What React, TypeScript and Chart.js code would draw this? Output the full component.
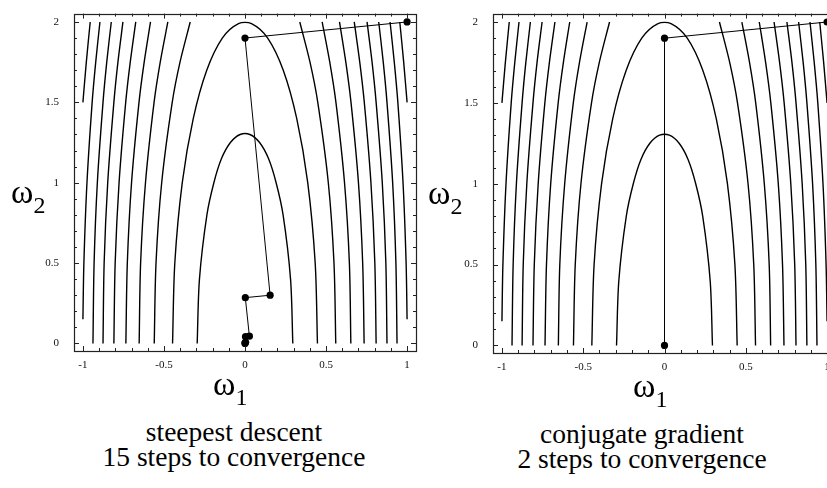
import React, { useEffect, useRef } from "react";
import { Chart, registerables } from "chart.js";

Chart.register(...registerables);

// ---- axis ticks ----
const xTickValues = [-1, -0.5, 0, 0.5, 1];
const xTickLabels = ["-1", "-0.5", "0", "0.5", "1"];
const yTickValues = [0, 0.5, 1, 1.5, 2];
const yTickLabels = ["0", "0.5", "1", "1.5", "2"];

// ---- contour lines (right half; the plot is mirror-symmetric) ----
// open contours: x read at these heights
const openContourY = [0, 0.5, 1, 1.5, 1.75, 2];
const open1X = [0.56, 0.549, 0.514, 0.449, 0.401, 0.338];
const open2X = [0.653, 0.644, 0.614, 0.561, 0.523, 0.476];
const open3X = [0.735, 0.726, 0.7, 0.654, 0.622, 0.583];
const open4X = [0.809, 0.801, 0.777, 0.736, 0.708, 0.674];
const open5X = [0.876, 0.869, 0.847, 0.809, 0.784, 0.753];
const open6X = [0.938, 0.931, 0.911, 0.876, 0.853, 0.825];
// contours cut by the plot edge x = ±1
const edge1X = [1, 0.994, 0.975, 0.943, 0.921, 0.895];
const edge1Y = [0.15, 0.5, 1, 1.5, 1.75, 2];
const edge2X = [1, 0.979, 0.955];
const edge2Y = [1.5, 1.75, 2];
// closed contours (bottom to cap)
const innerX = [0.295, 0.281, 0.235, 0.192, 0.145, 0.09, 0.03];
const innerY = [0, 0.4, 0.8, 1.0, 1.15, 1.25, 1.3];
const outerX = [0.447, 0.433, 0.387, 0.319, 0.236, 0.14, 0.04];
const outerY = [0, 0.5, 1.0, 1.4, 1.7, 1.9, 1.99];

// ---- optimisation paths ----
const steepestX = [1, 0, 0.155, 0.002, 0.027, 0.003, 0.004, 0, 0];
const steepestY = [2, 1.9, 0.3, 0.285, 0.045, 0.042, 0.007, 0.004, 0];
const conjugateX = [1, 0, 0];
const conjugateY = [2, 1.9, 0];

const xMin = -1.055;
const xMax = 1.055;
const yMin = -0.047;
const yMax = 2.052;

const serif = '"Liberation Serif", "Times New Roman", Times, Tinos, "DejaVu Serif", serif';

type Pt = { x: number; y: number };

function zip(xs: number[], ys: number[]): Pt[] {
  return xs.map((x, i) => ({ x, y: ys[i] }));
}
function mirror(pts: Pt[]): Pt[] {
  return pts.map((p) => ({ x: -p.x, y: p.y }));
}
function closed(xs: number[], ys: number[]): Pt[] {
  const right = zip(xs, ys);
  const left = mirror(right);
  return [...left, ...right.slice().reverse()];
}

function contourDatasets() {
  const lines: Pt[][] = [];
  lines.push(closed(innerX, innerY));
  lines.push(closed(outerX, outerY));
  [open1X, open2X, open3X, open4X, open5X, open6X].forEach((xs) => {
    const r = zip(xs, openContourY);
    lines.push(r, mirror(r));
  });
  const e1 = zip(edge1X, edge1Y);
  const e2 = zip(edge2X, edge2Y);
  lines.push(e1, mirror(e1), e2, mirror(e2));
  return lines.map((data) => ({
    type: "scatter" as const,
    data,
    showLine: true,
    borderColor: "#000",
    borderWidth: 1.4,
    pointRadius: 0,
    tension: 0.3,
    order: 1,
    clip: 2,
  }));
}

const frameTicks = {
  id: "frameTicks",
  afterDatasetsDraw(chart: any) {
    const { ctx, chartArea } = chart;
    const xs = chart.scales.x;
    const ys = chart.scales.y;
    const { left, right, top, bottom } = chartArea;
    ctx.save();
    ctx.strokeStyle = "#222";
    ctx.lineWidth = 1;
    ctx.beginPath();
    for (let i = -10; i <= 10; i++) {
      const px = Math.round(xs.getPixelForValue(i / 10)) + 0.5;
      const len = i % 5 === 0 ? 5 : 3;
      ctx.moveTo(px, bottom);
      ctx.lineTo(px, bottom - len);
      ctx.moveTo(px, top);
      ctx.lineTo(px, top + len);
    }
    for (let i = 0; i <= 20; i++) {
      const py = Math.round(ys.getPixelForValue(i / 10)) + 0.5;
      const len = i % 5 === 0 ? 5 : 3;
      ctx.moveTo(left, py);
      ctx.lineTo(left + len, py);
      ctx.moveTo(right, py);
      ctx.lineTo(right - len, py);
    }
    ctx.stroke();
    ctx.lineWidth = 1.2;
    ctx.strokeRect(Math.round(left) + 0.5, Math.round(top) + 0.5, Math.round(right - left), Math.round(bottom - top));
    ctx.restore();
  },
};

type PanelProps = {
  left: number;
  top: number;
  width: number;
  height: number;
  padTop: number;
  padRight: number;
  yAxisW: number;
  xAxisH: number;
  pathX: number[];
  pathY: number[];
};

function Panel(p: PanelProps) {
  const ref = useRef<HTMLCanvasElement>(null);
  useEffect(() => {
    const tickFont = { family: serif, size: 11 };
    const chart = new Chart(ref.current as HTMLCanvasElement, {
      type: "scatter",
      data: {
        datasets: [
          {
            type: "scatter",
            data: zip(p.pathX, p.pathY),
            showLine: true,
            borderColor: "#000",
            borderWidth: 1,
            pointRadius: 3.6,
            pointBackgroundColor: "#000",
            pointBorderWidth: 0,
            tension: 0,
            order: 0,
            clip: 6,
          },
          ...contourDatasets(),
        ] as any,
      },
      options: {
        responsive: false,
        animation: false,
        devicePixelRatio: 1,
        events: [],
        layout: { padding: { top: p.padTop, right: p.padRight, left: 0, bottom: 0 } },
        plugins: { legend: { display: false }, tooltip: { enabled: false } },
        scales: {
          x: {
            type: "linear",
            min: xMin,
            max: xMax,
            grid: { display: false },
            border: { display: false },
            ticks: {
              font: tickFont,
              color: "#111",
              padding: 0,
              autoSkip: false,
              maxRotation: 0,
              callback: (_v: any, i: number) => xTickLabels[i],
            },
            afterBuildTicks: (s: any) => {
              s.ticks = xTickValues.map((v) => ({ value: v }));
            },
            afterFit: (s: any) => {
              s.height = p.xAxisH;
            },
          },
          y: {
            type: "linear",
            min: yMin,
            max: yMax,
            grid: { display: false },
            border: { display: false },
            ticks: {
              font: tickFont,
              color: "#111",
              padding: 7,
              autoSkip: false,
              callback: (_v: any, i: number) => yTickLabels[i],
            },
            afterBuildTicks: (s: any) => {
              s.ticks = yTickValues.map((v) => ({ value: v }));
            },
            afterFit: (s: any) => {
              s.width = p.yAxisW;
            },
          },
        },
      } as any,
      plugins: [frameTicks],
    });
    return () => chart.destroy();
  }, []);
  return (
    <canvas
      ref={ref}
      width={p.width}
      height={p.height}
      style={{ position: "absolute", left: p.left, top: p.top, width: p.width, height: p.height }}
    />
  );
}

function AxisLabel({ left, baseline, sub }: { left: number; baseline: number; sub: string }) {
  const F = 34;
  return (
    <div
      style={{
        position: "absolute",
        left,
        top: baseline - 0.8375 * F,
        fontSize: F,
        lineHeight: 1,
        fontFamily: serif,
        whiteSpace: "nowrap",
      }}
    >
      ω<span style={{ fontSize: 24, position: "relative", top: 10 }}>{sub}</span>
    </div>
  );
}

function Caption({ center, baseline, lines }: { center: number; baseline: number; lines: string[] }) {
  const F = 27.5;
  const LH = 25;
  return (
    <div
      style={{
        position: "absolute",
        left: center - 200,
        width: 400,
        top: baseline - (LH - 1.107 * F) / 2 - 0.891 * F,
        fontSize: F,
        lineHeight: LH + "px",
        fontFamily: serif,
        textAlign: "center",
        whiteSpace: "nowrap",
      }}
    >
      {lines.map((l, i) => (
        <div key={i}>{l}</div>
      ))}
    </div>
  );
}

export default function App() {
  return (
    <div
      style={{
        position: "fixed",
        left: 0,
        top: 0,
        width: 827,
        height: 488,
        overflow: "hidden",
        background: "#fff",
        color: "#000",
        fontFamily: serif,
      }}
    >
      <Panel left={0} top={0} width={420} height={372} padTop={10} padRight={3} yAxisW={74} xAxisH={21} pathX={steepestX} pathY={steepestY} />
      <Panel left={420} top={0} width={420} height={374} padTop={13} padRight={4} yAxisW={73} xAxisH={21} pathX={conjugateX} pathY={conjugateY} />
      <AxisLabel left={11} baseline={203} sub="2" />
      <AxisLabel left={428} baseline={204} sub="2" />
      <AxisLabel left={213} baseline={395} sub="1" />
      <AxisLabel left={633} baseline={397} sub="1" />
      <Caption center={234} baseline={441} lines={["steepest descent", "15 steps to convergence"]} />
      <Caption center={642} baseline={443} lines={["conjugate gradient", "2 steps to convergence"]} />
    </div>
  );
}
